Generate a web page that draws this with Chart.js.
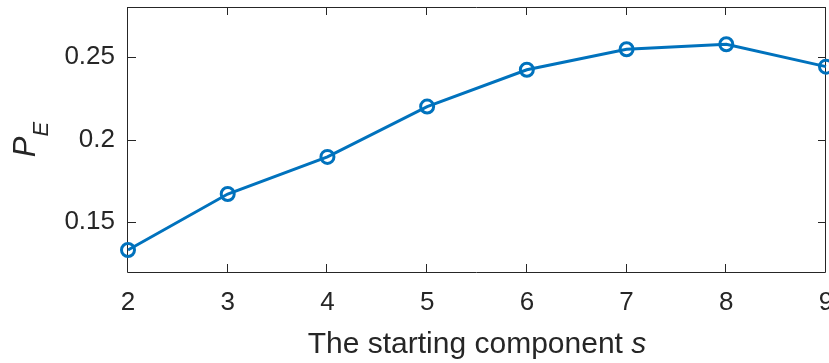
<!DOCTYPE html>
<html>
<head>
<meta charset="utf-8">
<script src="https://cdn.jsdelivr.net/npm/chart.js@4.4.1/dist/chart.umd.min.js"></script>
<style>
  html, body { margin: 0; padding: 0; background: #fff; }
  #wrap { width: 829px; height: 363px; }
</style>
</head>
<body>
<div id="wrap"><canvas id="peChart" width="829" height="363"></canvas></div>
<script>
const startComponent = [2, 3, 4, 5, 6, 7, 8, 9];
const peValues = [0.1333, 0.1671, 0.1895, 0.2199, 0.2421, 0.2545, 0.2575, 0.244];
const yTickValues = [0.15, 0.2, 0.25];
const xTitle = 'The starting component ';
const xTitleItalic = 's';

const FONT = '"Liberation Sans", Arial, Helvetica, sans-serif';
const AXIS_COLOR = '#262626';
const LINE_COLOR = '#0072BD';

// box + inward ticks + titles, drawn like matlab
const matlabAxes = {
  id: 'matlabAxes',
  beforeDatasetsDraw(chart) {
    let ctx = chart.ctx;
    let a = chart.chartArea;
    let xs = chart.scales.x;
    let ys = chart.scales.y;
    let tl = 8;
    ctx.save();
    ctx.strokeStyle = AXIS_COLOR;
    ctx.lineWidth = 1;
    ctx.beginPath();
    ctx.rect(Math.round(a.left) - 0.5, Math.round(a.top) + 0.5,
      Math.round(a.right - a.left), Math.round(a.bottom - a.top));
    xs.ticks.forEach((t) => {
      let px = Math.round(xs.getPixelForValue(t.value)) - 0.5;
      ctx.moveTo(px, a.bottom); ctx.lineTo(px, a.bottom - tl);
      ctx.moveTo(px, a.top); ctx.lineTo(px, a.top + tl);
    });
    ys.ticks.forEach((t) => {
      let py = Math.round(ys.getPixelForValue(t.value)) + 0.5;
      ctx.moveTo(a.left, py); ctx.lineTo(a.left + tl, py);
      ctx.moveTo(a.right, py); ctx.lineTo(a.right - tl, py);
    });
    ctx.stroke();

    // x title
    ctx.fillStyle = AXIS_COLOR;
    ctx.textBaseline = 'alphabetic';
    ctx.textAlign = 'left';
    ctx.font = '30px ' + FONT;
    let w1 = ctx.measureText(xTitle).width;
    ctx.font = 'italic 30px ' + FONT;
    let w2 = ctx.measureText(xTitleItalic).width;
    let x0 = (a.left + a.right) / 2 - (w1 + w2) / 2;
    ctx.font = '30px ' + FONT;
    ctx.fillText(xTitle, x0, 353);
    ctx.font = 'italic 30px ' + FONT;
    ctx.fillText(xTitleItalic, x0 + w1, 353);

    // y title P_E
    ctx.translate(35, (a.top + a.bottom) / 2);
    ctx.rotate(-Math.PI / 2);
    ctx.font = 'italic 31px ' + FONT;
    let wp = ctx.measureText('P').width;
    ctx.font = 'italic 22px ' + FONT;
    let we = ctx.measureText('E').width;
    let sx = -(wp + we) / 2;
    ctx.font = 'italic 31px ' + FONT;
    ctx.fillText('P', sx, 0);
    ctx.font = 'italic 22px ' + FONT;
    ctx.fillText('E', sx + wp, 13);
    ctx.restore();
  },
};

let ctxP = document.getElementById('peChart').getContext('2d');
let peChart = new Chart(ctxP, {
  type: 'line',
  data: {
    datasets: [
      {
        data: startComponent.map((s, i) => ({ x: s, y: peValues[i] })),
        borderColor: LINE_COLOR,
        borderWidth: 3,
        pointStyle: 'circle',
        pointRadius: 6.5,
        pointBorderWidth: 3,
        pointBorderColor: LINE_COLOR,
        pointBackgroundColor: 'rgba(0,0,0,0)',
        tension: 0,
        clip: false,
      },
    ],
  },
  options: {
    responsive: false,
    animation: false,
    devicePixelRatio: 1,
    layout: { autoPadding: false, padding: { top: 7, right: 3, left: 0, bottom: 0 } },
    plugins: { legend: { display: false }, tooltip: { enabled: false } },
    scales: {
      x: {
        type: 'linear',
        min: 2,
        max: 9,
        grid: { display: false, drawTicks: false },
        border: { display: false },
        ticks: {
          stepSize: 1,
          padding: 15,
          maxRotation: 0,
          color: AXIS_COLOR,
          font: { family: FONT, size: 26 },
        },
        afterFit(scale) {
          scale.height = 91;
          scale.paddingLeft = 0;
          scale.paddingRight = 0;
        },
      },
      y: {
        min: 0.12,
        max: 0.28,
        grid: { display: false, drawTicks: false },
        border: { display: false },
        afterBuildTicks(scale) {
          scale.ticks = yTickValues.map((v) => ({ value: v }));
        },
        ticks: {
          padding: 13,
          color: AXIS_COLOR,
          font: { family: FONT, size: 26 },
          callback: (v) => String(v),
        },
        afterFit(scale) {
          scale.width = 128;
          scale.paddingTop = 0;
          scale.paddingBottom = 0;
        },
      },
    },
  },
  plugins: [matlabAxes],
});
</script>
</body>
</html>
